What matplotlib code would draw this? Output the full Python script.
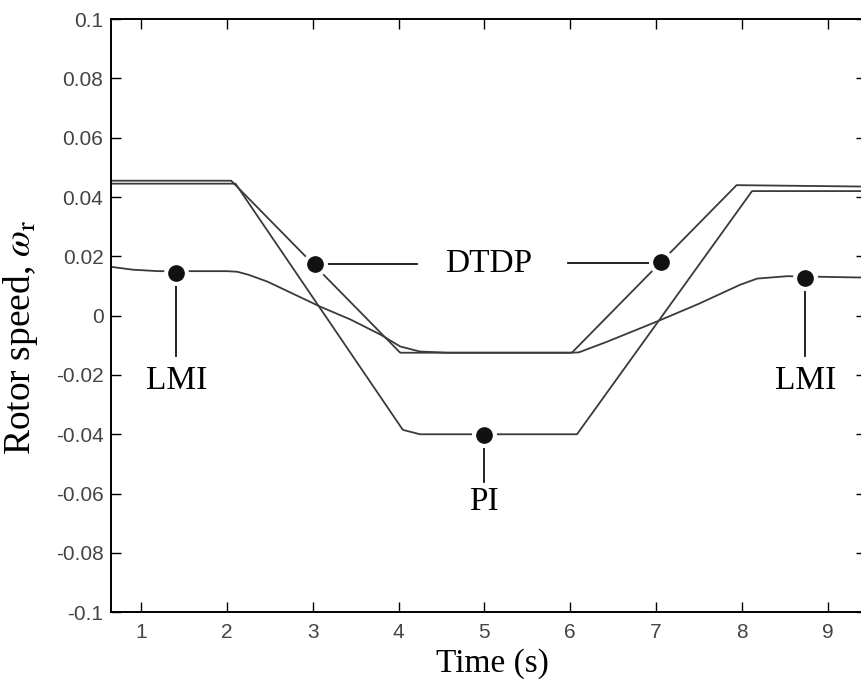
import numpy as np
import matplotlib.pyplot as plt

plt.rcParams['mathtext.fontset'] = 'stix'

# curves
t_dtdp = [0.64, 2.05, 4.02, 6.02, 7.94, 9.5]
w_dtdp = [0.0455, 0.0455, -0.0125, -0.0125, 0.044, 0.0435]

t_pi = [0.64, 2.1, 4.05, 4.25, 6.08, 8.12, 9.5]
w_pi = [0.0445, 0.0445, -0.0385, -0.040, -0.040, 0.042, 0.042]

t_lmi = [0.64, 0.9, 1.2, 2.0, 2.12, 2.25, 2.47, 3.09, 3.44, 3.79, 4.02, 4.25, 4.57,
         6.0, 6.1, 6.43, 7.01, 7.5, 7.98, 8.18, 8.53, 9.5]
w_lmi = [0.0165, 0.0155, 0.015, 0.015, 0.0148, 0.0138, 0.0115, 0.003, -0.0013, -0.0064,
         -0.0104, -0.0121, -0.0125, -0.0125, -0.0124, -0.0088, -0.002, 0.004, 0.0104,
         0.0125, 0.0133, 0.0128]

x_ticks = [1, 2, 3, 4, 5, 6, 7, 8, 9]
y_ticks = [-0.1, -0.08, -0.06, -0.04, -0.02, 0, 0.02, 0.04, 0.06, 0.08, 0.1]
y_labels = ['-0.1', '-0.08', '-0.06', '-0.04', '-0.02', '0', '0.02', '0.04', '0.06', '0.08', '0.1']

fig = plt.figure(figsize=(8.61, 6.81), dpi=100)
ax = fig.add_axes([0.129, 0.101, 0.877, 0.871])

line_col = '#3a3a3a'
for t, w in ((t_dtdp, w_dtdp), (t_pi, w_pi), (t_lmi, w_lmi)):
    ax.plot(t, w, color=line_col, lw=1.3)

serif = 'Liberation Serif'
lab_size = 24


def dot(x, y):
    ax.plot(x, y, 'o', ms=17, color='white', zorder=4)
    ax.plot(x, y, 'o', ms=11, color='#111111', zorder=5)


# LMI markers
for x, y in ((1.41, 0.0145), (8.74, 0.0128)):
    dot(x, y)
    ax.plot([x, x], [y, -0.0135], color='#111111', lw=1.3, zorder=3)
    ax.text(x, -0.022, 'LMI', family=serif, fontsize=lab_size, ha='center', va='center')

# DTDP markers
dot(3.03, 0.0175)
dot(7.06, 0.018)
ax.plot([3.03, 4.22], [0.0175, 0.0175], color='#111111', lw=1.3, zorder=3)
ax.plot([5.97, 7.06], [0.0178, 0.0178], color='#111111', lw=1.3, zorder=3)
ax.text(5.05, 0.0175, 'DTDP', family=serif, fontsize=lab_size, ha='center', va='center')

# PI marker
dot(5.0, -0.0402)
ax.plot([5.0, 5.0], [-0.0402, -0.056], color='#111111', lw=1.3, zorder=3)
ax.text(5.0, -0.0627, 'PI', family=serif, fontsize=lab_size, ha='center', va='center')

ax.set_xlim(0.65, 9.45)
ax.set_ylim(-0.1, 0.1)
ax.set_xticks(x_ticks)
ax.set_yticks(y_ticks)
ax.set_yticklabels(y_labels)
ax.tick_params(direction='in', length=7, width=1, top=True, right=True,
               labelsize=15, labelcolor='#444444')
ax.tick_params(axis='x', pad=8)
ax.tick_params(axis='y', pad=5.5)
for lab in ax.get_xticklabels() + ax.get_yticklabels():
    lab.set_family('Liberation Sans')
for s in ax.spines.values():
    s.set_linewidth(1.4)

ax.set_xlabel('Time (s)', family=serif, fontsize=lab_size)
ax.set_ylabel(r'Rotor speed, $\omega_{\mathrm{r}}$', family=serif, fontsize=27)
ax.xaxis.set_label_coords(0.505, -0.06)
ax.yaxis.set_label_coords(-0.094, 0.463)

fig.savefig('out.png', dpi=100)
